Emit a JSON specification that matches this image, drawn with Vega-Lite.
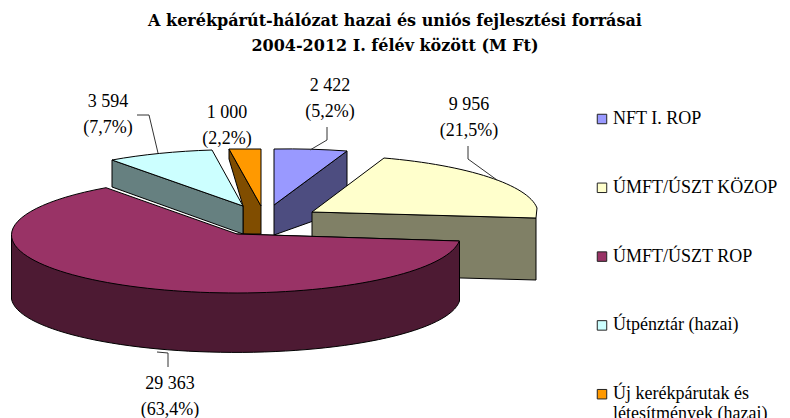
{
"$schema":"https://vega.github.io/schema/vega-lite/v6.json",
"width":490,"height":358,
"autosize":"none",
"padding":{"top":60,"right":300,"bottom":0,"left":0},
"background":"white",
"config":{"view":{"stroke":null},"font":"Liberation Serif"},
"title":{"text":["A kerékpárút-hálózat hazai és uniós fejlesztési forrásai","2004-2012 I. félév között (M Ft)"],"font":"DejaVu Serif","fontWeight":"bold","fontSize":16,"lineHeight":25,"anchor":"middle","frame":"group","dx":150,"offset":6,"color":"black"},
"data":{"values":[
{"forrás":"NFT I. ROP","érték":2422,"címke":"2 422\n(5,2%)"},
{"forrás":"Új kerékpárutak és létesítmények (hazai)","érték":1000,"címke":"1 000\n(2,2%)"},
{"forrás":"Útpénztár (hazai)","érték":3594,"címke":"3 594\n(7,7%)"},
{"forrás":"ÚMFT/ÚSZT KÖZOP","érték":9956,"címke":"9 956\n(21,5%)"},
{"forrás":"ÚMFT/ÚSZT ROP","érték":29363,"címke":"29 363\n(63,4%)"}
]},
"layer":[
{"mark":{"type":"point","filled":true,"opacity":1,"stroke":"#000","strokeWidth":1},
 "encoding":{
  "size":{"value":4},
  "shape":{"field":"forrás","type":"nominal","legend":null,"scale":{"domain":["NFT I. ROP","Új kerékpárutak és létesítmények (hazai)","Útpénztár (hazai)","ÚMFT/ÚSZT KÖZOP","ÚMFT/ÚSZT ROP"],"range":[
   "M29,-34 L102,-88 L102,-30 L29,-4 Z",
   "M-16,-90 L-16,-80 L-2,-33 L-2,-5 L16,-5 L16,-33 Z",
   "M-133,-79 L-2,-33 L-2,-5 L-133,-52 Z",
   "M67,-27 L291,-21 L291,41 L67,35 Z",
   "M-233.5,-4 L-233.5,60 A224.5,56 0 0 0 214.5,62 L214.5,2 L-8,-5 Z"]}},
  "fill":{"field":"forrás","type":"nominal","legend":null,"scale":{"domain":["NFT I. ROP","Új kerékpárutak és létesítmények (hazai)","Útpénztár (hazai)","ÚMFT/ÚSZT KÖZOP","ÚMFT/ÚSZT ROP"],"range":["#4D4D80","#804D00","#668080","#808066","#4D1A33"]}}
 }},
{"mark":{"type":"point","filled":true,"opacity":1,"stroke":"#000","strokeWidth":1},
 "encoding":{
  "size":{"value":4},
  "shape":{"field":"forrás","type":"nominal","legend":null,"scale":{"domain":["NFT I. ROP","Új kerékpárutak és létesítmények (hazai)","Útpénztár (hazai)","ÚMFT/ÚSZT KÖZOP","ÚMFT/ÚSZT ROP"],"range":[
   "M29,-90 A224,59 0 0 1 102,-88 L29,-34 Z",
   "M-16,-90 L16,-90 L16,-33 Z",
   "M-133,-79 A224,59 0 0 1 -33,-89 L-2,-33 Z",
   "M67,-27 L139,-81 A224,59 0 0 1 292,-31 L291,-21 Z",
   "M-8,-5 L-139,-51.3 A224.5,58 0 1 0 214.3,2 Z"]}},
  "fill":{"field":"forrás","type":"nominal","scale":{"domain":["NFT I. ROP","ÚMFT/ÚSZT KÖZOP","ÚMFT/ÚSZT ROP","Útpénztár (hazai)","Új kerékpárutak és létesítmények (hazai)"],"range":["#9999FF","#FFFFCC","#993366","#CCFFFF","#FF9900"]},
   "legend":{"title":null,"orient":"none","legendX":593,"legendY":50,"symbolType":"square","symbolSize":90,"symbolStrokeColor":"#222","symbolStrokeWidth":1,"symbolOpacity":1,"labelFont":"Liberation Serif","labelFontSize":18,"labelColor":"black","labelOffset":2,"rowPadding":50.8,"labelLimit":300,"labelLineHeight":23,"labelExpr":"datum.label === 'Új kerékpárutak és létesítmények (hazai)' ? ['Új kerékpárutak és','létesítmények (hazai)'] : datum.label"}}
 }},
{"transform":[{"filter":"datum['érték'] !== 1000"}],
 "mark":{"type":"point","filled":false,"opacity":1,"stroke":"#333","strokeWidth":1},
 "encoding":{
  "size":{"value":4},
  "shape":{"field":"forrás","type":"nominal","legend":null,"scale":{"domain":["NFT I. ROP","Útpénztár (hazai)","ÚMFT/ÚSZT KÖZOP","ÚMFT/ÚSZT ROP"],"range":[
   "M82,-112 L82,-99 L65,-89",
   "M-108,-124 L-96,-124 L-87,-86",
   "M223,-93 L223,-80 L252,-59",
   "M-77,128 L-77,114 L-88,113"]}}
 }},
{"mark":{"type":"text","font":"Liberation Serif","fontSize":18,"lineHeight":26,"lineBreak":"\n","align":"center","baseline":"middle","color":"black"},
 "encoding":{
  "text":{"field":"címke","type":"nominal"},
  "x":{"field":"érték","type":"quantitative","axis":null,"scale":{"domain":[1000,2422,3594,9956,29363],"range":[227,330,108,469,170],"nice":false,"zero":false}},
  "y":{"field":"érték","type":"quantitative","axis":null,"scale":{"domain":[1000,2422,3594,9956,29363],"range":[53,26,42,45,324],"nice":false,"zero":false}}
 }}
],
"resolve":{"scale":{"fill":"independent","shape":"independent","x":"independent","y":"independent"}}
}
